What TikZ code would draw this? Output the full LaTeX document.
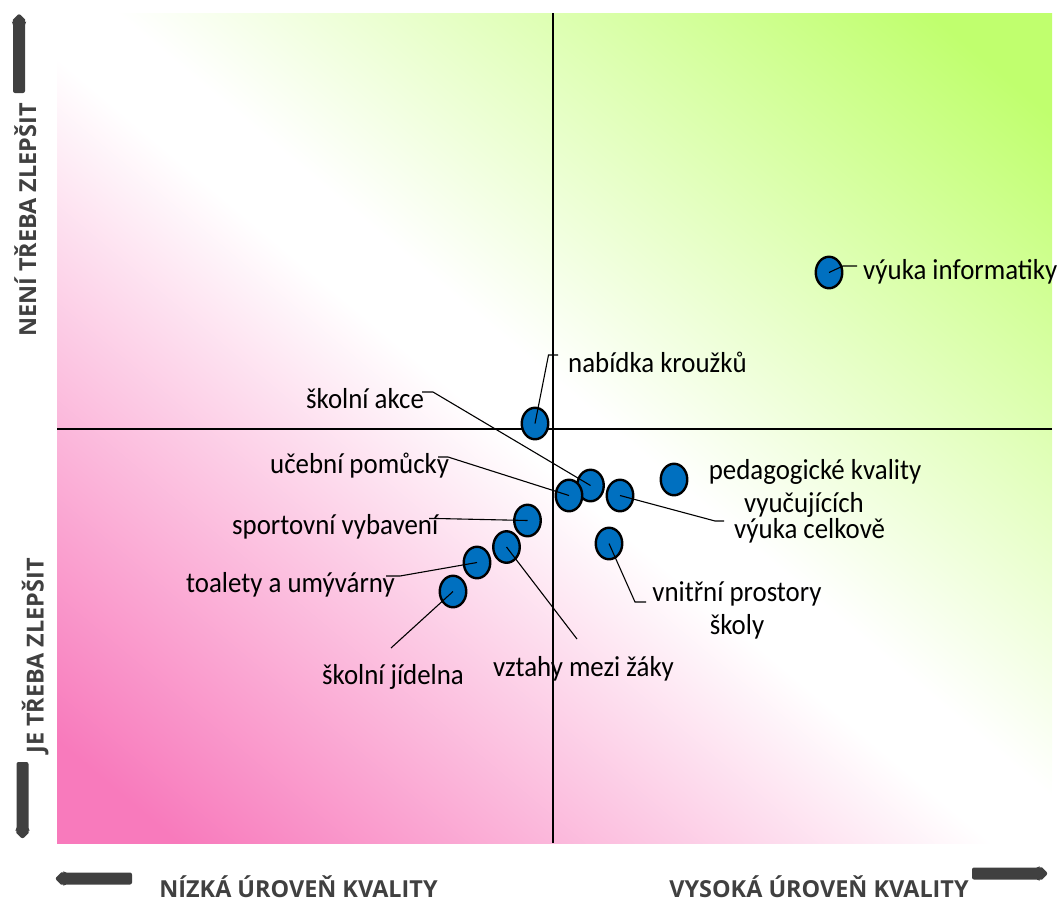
\documentclass[tikz,border=0pt]{standalone}
\usepackage{fontspec}
\setmainfont{Carlito}[FakeStretch=0.93]
\newfontfamily\axisfont{Open Sans}
\usetikzlibrary{shapes.geometric}
\definecolor{pinkc}{RGB}{248,122,188}
\definecolor{greenc}{RGB}{192,255,110}
\definecolor{dgray}{RGB}{64,64,64}
\definecolor{dotblue}{RGB}{0,112,192}
\pgfdeclarehorizontalshading{quadshade}{100bp}{color(0bp)=(pinkc); color(19bp)=(pinkc); color(48bp)=(white); color(52bp)=(white); color(81bp)=(greenc); color(100bp)=(greenc)}
\begin{document}
\begin{tikzpicture}[x=1bp,y=-1bp,
  dot/.style={ellipse, draw=black, line width=2.4bp, fill=dotblue, minimum width=26.5bp, minimum height=31.5bp, inner sep=0},
  lbl/.style={anchor=base west, inner sep=0, font=\fontsize{29}{34}\selectfont, text=black},
  lbltwo/.style={anchor=base, inner sep=0, font=\fontsize{29}{33.5}\selectfont, text=black},
  lead/.style={draw=black, line width=1.1bp},
  quadline/.style={draw=black, line width=2bp},
  axlbl/.style={anchor=base, inner sep=0, font=\axisfont\bfseries\fontsize{23.5}{28}\selectfont, text=dgray},
  bigarrow/.style={fill=dgray, rounded corners=2bp}]
\useasboundingbox (0,0) rectangle (1058,901);
% background
\shade[shading=quadshade, shading angle=50] (57,13) rectangle (1052,843);
% quadrant axes
\coordinate (vtop) at (553,13);
\coordinate (vbot) at (553,843);
\coordinate (hleft) at (57,429);
\coordinate (hright) at (1052,429);
\draw[quadline] (vtop) -- (vbot);
\draw[quadline] (hleft) -- (hright);
% dots
\node[dot] (akce) at (590.5,485.5) {};
\node[dot] (ucb) at (569,495.5) {};
\node[dot] (celk) at (620,495.5) {};
\node[dot] (ped) at (674,479.5) {};
\node[dot] (vnit) at (609,543.5) {};
\node[dot] (sport) at (527.5,520.5) {};
\node[dot] (vzt) at (506.5,547) {};
\node[dot] (toal) at (477,562.5) {};
\node[dot] (jid) at (453,591.5) {};
\node[dot] (nab) at (535,423.5) {};
\node[dot] (inf) at (829,272.5) {};
% leader points
\coordinate (nabA) at (548.5,355); \coordinate (nabB) at (558,355);
\coordinate (akceA) at (433,392); \coordinate (akceB) at (422,392);
\coordinate (ucbA) at (448,457); \coordinate (ucbB) at (438,457);
\coordinate (sportA) at (437,518.5); \coordinate (sportB) at (429,518.5);
\coordinate (toalA) at (400,576); \coordinate (toalB) at (386,576);
\coordinate (jidA) at (391,648);
\coordinate (vztA) at (577,639);
\coordinate (vnitA) at (635,602); \coordinate (vnitB) at (646,602);
\coordinate (celkA) at (715,521); \coordinate (celkB) at (724,521);
\coordinate (infA) at (843,266); \coordinate (infB) at (857,266);
\draw[lead] (nab.center) -- (nabA) -- (nabB);
\draw[lead] (akce.center) -- (akceA) -- (akceB);
\draw[lead] (ucb.center) -- (ucbA) -- (ucbB);
\draw[lead] (sport.center) -- (sportA) -- (sportB);
\draw[lead] (toal.center) -- (toalA) -- (toalB);
\draw[lead] (jid.center) -- (jidA);
\draw[lead] (vzt.center) -- (vztA);
\draw[lead] (vnit.center) -- (vnitA) -- (vnitB);
\draw[lead] (celk.center) -- (celkA) -- (celkB);
\draw[lead] (inf.center) -- (infA) -- (infB);
% labels
\node[lbl] (tnab) at (568,372) {nabídka kroužků};
\node[lbl] (takce) at (306,408) {školní akce};
\node[lbl] (tucb) at (270,473) {učební pomůcky};
\node[lbl] (tsport) at (232,534) {sportovní vybavení};
\node[lbl] (ttoal) at (186,592) {toalety a umývárny};
\node[lbl] (tjid) at (322,684) {školní jídelna};
\node[lbl] (tvzt) at (493,676) {vztahy mezi žáky};
\node[lbltwo] (tped) at (815,479) {\begin{tabular}[t]{@{}c@{}}pedagogické kvality\\vyučujících\hspace*{22bp}\end{tabular}};
\node[lbl] (tcelk) at (734,538) {výuka celkově};
\node[lbltwo] (tvnit) at (737,601) {\begin{tabular}[t]{@{}c@{}}vnitřní prostory\\školy\end{tabular}};
\node[lbl] (tinf) at (863,279) {výuka informatiky};
% axis labels
\node[axlbl, rotate=90] (lnot) at (36,220) {NENÍ TŘEBA ZLEPŠIT};
\node[axlbl, rotate=90] (lneed) at (43.5,656) {JE TŘEBA ZLEPŠIT};
\node[axlbl] (llow) at (298.5,897.5) {NÍZKÁ ÚROVEŇ KVALITY};
\node[axlbl] (lhigh) at (819,897.5) {VYSOKÁ ÚROVEŇ KVALITY};
% big arrows
\fill[bigarrow] (19,13.5) -- (26.5,21) -- (25,23) -- (25,93) -- (13,93) -- (13,23) -- (11.5,21) -- cycle;
\fill[bigarrow] (22.5,839) -- (30,831.5) -- (28.5,829.5) -- (28.5,762) -- (16.5,762) -- (16.5,829.5) -- (15,831.5) -- cycle;
\fill[bigarrow] (55,878.5) -- (62.5,871) -- (64.5,872.5) -- (132,872.5) -- (132,884.5) -- (64.5,884.5) -- (62.5,886) -- cycle;
\fill[bigarrow] (1048,873.5) -- (1040.5,866) -- (1038.5,867.5) -- (972,867.5) -- (972,879.5) -- (1038.5,879.5) -- (1040.5,881) -- cycle;
\end{tikzpicture}
\end{document}
